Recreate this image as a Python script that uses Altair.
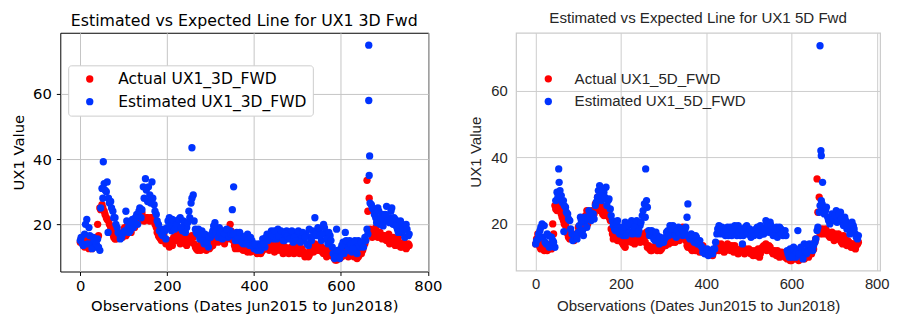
import altair as alt
import pandas as pd

obs_a = list(range(0, 760, 5))
obs_b = list(range(2, 760, 5))

# ---- UX1 3D forward (left panel) ----
est_3d_a = [
    15, 14, 17, 21.5, 19, 14, 16, 13, 15.5, 12,
    31, 32.5, 30, 28, 27, 24, 22, 19, 17, 16,
    17.5, 24, 19, 18, 21.5, 20, 23, 24, 22, 31.5,
    34, 27, 29, 33, 26, 23, 20, 18.5, 16.5, 18,
    19, 22, 18, 20, 21, 19, 22, 18, 20.5, 19,
    24, 26.5, 29, 18.5, 17, 15.5, 18, 14, 16, 13,
    16, 18, 20.5, 17, 19, 16.5, 18, 17, 16, 18,
    24.5, 16, 17.5, 15, 16.5, 14, 15.5, 17, 13.5, 15,
    12.5, 13.5, 14, 12, 15.5, 13, 17, 16, 18, 15.5,
    17, 18.5, 16, 17.5, 15, 18, 16.5, 17, 14.5, 17.5,
    15.5, 17, 16, 15, 17, 13.5, 16, 18, 22, 16.5,
    18, 15, 20, 17, 14, 16.5, 13, 9.5, 18.5, 10.5,
    12.5, 14.5, 17.5, 13, 15, 11.5, 14, 12.5, 15, 13,
    14.5, 16, 18.5, 35, 26, 24.5, 22, 25, 20, 23,
    21.5, 25.5, 22, 24, 20, 21.5, 18.5, 20, 17.5, 19,
    20, 16.5,
]
est_3d_b = [
    16, 13.5, 20, 14, 16.5, 12.5, 15, 14, 13, 25,
    28, 30.5, 33, 26.5, 25, 22, 20, 17.5, 15.5, 17,
    18, 21, 17.5, 20.5, 19, 22, 20, 25, 24.5, 28,
    30.5, 31.5, 26.5, 28, 24, 21, 18, 17, 18.5, 15.5,
    21, 19.5, 21.5, 18.5, 20, 21.5, 19, 21, 17.5, 20.5,
    22, 28, 21, 17.5, 18.5, 16.5, 15, 17, 14.5, 16,
    17, 19.5, 18, 16, 17.5, 15.5, 17, 18.5, 16.5, 17,
    17, 15, 16, 17.5, 14.5, 16, 14, 15.5, 16, 13.5,
    14, 12, 13, 13.5, 14, 16, 15, 17, 16.5, 18,
    15.5, 16.5, 18, 15, 17, 16.5, 15.5, 18, 16, 15,
    18, 14.5, 17.5, 16, 14, 18.5, 15, 16.5, 17, 19,
    16.5, 17, 19, 15.5, 17.5, 15, 11, 10, 12, 9.5,
    13.5, 11, 15, 12, 14, 12.5, 15, 11, 13.5, 14.5,
    13, 15, 17, 26.5, 25, 23, 20.5, 24, 22, 19.5,
    23, 21, 20.5, 25, 22, 19.5, 17.5, 21, 18, 16,
    18.5, 17,
]
act_3d_a = [
    14.5, 16, 13, 15, 12.5, 14, 13, 15.5, 20, 25,
    26, 24, 22, 21, 19, 17, 15.5, 16.5, 16, 17,
    18, 16.5, 20, 18, 21, 19, 22, 21, 24, 22,
    21.5, 22, 21, 22, 21, 19, 16.5, 15.5, 16, 15,
    14.5, 13, 14, 16, 15, 17, 14, 16, 15, 13.5,
    16, 14.5, 16, 13, 12, 13.5, 12.5, 13, 12, 14,
    13, 13.5, 15, 16, 15, 16.5, 15, 16, 17, 20,
    17, 13.5, 14, 12.5, 13.5, 12, 13, 11.5, 12.5, 13,
    12, 11.5, 12.5, 11, 12, 12.5, 13.5, 12, 14, 12.5,
    13, 14, 12, 13.5, 11.5, 12.5, 11, 13, 12, 11.5,
    13, 11, 12.5, 11.5, 10.5, 10, 12, 13, 14, 13.5,
    12, 13, 11, 12.5, 10.5, 11, 12, 9.5, 9, 10,
    11.5, 10.5, 12, 11, 12.5, 10.5, 10, 11, 10, 11.5,
    12, 14, 33.5, 28, 18, 17, 19, 16, 17.5, 15.5,
    16.5, 15, 17, 14.5, 16, 13.5, 15, 14, 13, 14.5,
    12.5, 14,
]
act_3d_b = [
    15.5, 13.5, 14.5, 13, 15, 12.5, 14.5, 13.5, 16.5, 24.5,
    25, 23, 21.5, 20, 18, 16, 15.5, 17, 16.5, 16,
    19, 17, 20.5, 17.5, 19.5, 20.5, 21.5, 23, 23.5, 21,
    22, 21.5, 22, 21.5, 20, 17.5, 16, 15, 16.5, 14,
    14, 15, 13.5, 15.5, 16.5, 15, 14.5, 17, 14, 15,
    15, 16.5, 14, 12.5, 13, 12, 14, 12.5, 13.5, 12.5,
    14, 14.5, 16.5, 14.5, 16, 15.5, 14, 16.5, 15.5, 18,
    15, 12.5, 13, 14.5, 12.5, 13.5, 12, 13, 11.5, 12,
    12.5, 11, 12, 11.5, 13, 13.5, 13, 12.5, 13, 11.5,
    12, 13, 12.5, 11, 13, 12, 11.5, 12.5, 11, 12.5,
    12, 12, 11, 10, 11, 10.5, 12.5, 11.5, 13, 12,
    13.5, 11.5, 12, 10, 12, 10.5, 10, 9, 9.5, 9.5,
    10, 11, 11.5, 10, 11, 11.5, 10.5, 9.5, 10.5, 11,
    13, 15, 24, 18.5, 16, 17.5, 18, 17, 16, 16.5,
    15.5, 16, 14, 15.5, 15, 14, 16, 13, 14, 13.5,
    13, 13.5,
]
est_3d_out_obs = [53, 64, 257, 353, 664, 664, 666]
est_3d_out_val = [39.2, 17.5, 43.5, 31.5, 75.0, 58.0, 41.0]

# ---- UX1 5D forward (right panel) ----
est_5d_a = [
    14, 15.5, 18, 20, 19.5, 14, 16.5, 13.5, 15, 13,
    29.5, 32.5, 28.5, 27, 25, 23, 21, 17, 15.5, 16,
    17.5, 22, 18, 20.5, 19, 24, 21, 23, 25.5, 28,
    31.5, 27, 29.5, 31, 27, 24.5, 21, 18.5, 20, 17.5,
    19, 16.5, 20.5, 18, 17.5, 21, 18.5, 20, 17, 19.5,
    22.5, 26, 27, 18, 16.5, 17.5, 15, 16.5, 14, 15.5,
    14.5, 16, 18, 19.5, 17, 18.5, 16, 19, 17.5, 16.5,
    18, 22, 16, 17, 15, 16.5, 14, 15, 13, 12,
    11.5, 10.5, 12, 11, 12.5, 17, 19.5, 17, 18.5, 16.5,
    19, 17.5, 16.5, 18.5, 17, 19.5, 16.5, 14, 18, 19.5,
    17, 16, 18, 17.5, 19, 16.5, 18.5, 17, 21, 19,
    20.5, 18, 17, 19, 17.5, 18.5, 16.5, 18, 12, 10,
    11.5, 13, 10, 18, 12.5, 10.5, 14, 11, 12.5, 13.5,
    12, 14.5, 18, 23.5, 27, 25, 24, 22, 20, 23,
    21, 24, 22.5, 23.5, 20.5, 22, 18.5, 20, 18, 19.5,
    17, 15.5,
]
est_5d_b = [
    15, 17, 19, 16, 14.5, 17, 13, 16, 14.5, 27,
    28, 30, 26.5, 25.5, 23.5, 21.5, 18.5, 15, 16.5, 15.5,
    19.5, 21, 16.5, 22, 21.5, 22.5, 23, 21.5, 26.5, 30,
    29, 30.5, 28, 25.5, 27.5, 22.5, 19.5, 18, 21, 17,
    18, 19, 16.5, 19.5, 20, 17, 19, 21, 18, 20.5,
    24, 22, 25, 16.5, 18, 15.5, 17.5, 15, 16, 14.5,
    15.5, 17.5, 16.5, 18.5, 19.5, 16.5, 18, 17, 18.5, 17,
    19, 16.5, 15.5, 16.5, 14.5, 16, 15, 13.5, 11.5, 11,
    12.5, 11, 11.5, 12.5, 14.5, 18.5, 17.5, 19, 17.5, 18,
    16.5, 19, 17.5, 19.5, 16.5, 17.5, 18.5, 16.5, 19, 17,
    18.5, 17.5, 16.5, 18.5, 17.5, 19.5, 17, 18.5, 20, 17.5,
    19.5, 16.5, 18.5, 16, 19, 17, 17.5, 16.5, 11, 12.5,
    10, 12, 11.5, 11, 13, 9.5, 12, 11.5, 14, 12.5,
    13.5, 15.5, 19, 25.5, 26, 23, 25, 21, 22, 21.5,
    22.5, 20.5, 23, 21.5, 19.5, 21, 19.5, 17, 20.5, 18.5,
    16, 16.5,
]
act_5d_a = [
    14, 17, 13, 14.5, 12, 13.5, 12.5, 14, 20, 25.5,
    24, 26, 23, 21, 19.5, 17, 15.5, 16, 15, 17,
    19, 17.5, 21, 19, 24, 21.5, 23, 22, 26, 28,
    24, 25, 22.5, 24, 23, 21, 17, 16, 15.5, 16.5,
    15, 14, 13, 15.5, 16.5, 14.5, 17, 15, 16, 14.5,
    17, 16, 17.5, 13.5, 12, 13, 12.5, 12, 13.5, 12.5,
    14, 13.5, 15, 16, 14.5, 16, 15, 15.5, 17, 19,
    16, 13.5, 14, 12.5, 13, 12, 13.5, 11.5, 12.5, 11.5,
    12, 11, 11.5, 10.5, 12, 13.5, 12, 14, 13, 12,
    14, 12.5, 13.5, 11.5, 12.5, 11, 12, 13, 11, 11.5,
    12.5, 11, 10.5, 12, 11.5, 10, 12, 13.5, 14, 12.5,
    13, 11.5, 12, 10.5, 11.5, 10.5, 11, 10, 9.5, 10.5,
    9, 10, 11, 9.5, 10.5, 10, 9.5, 11, 10, 11.5,
    12, 14.5, 33.5, 28, 18, 17, 18.5, 17, 16, 17.5,
    15, 16.5, 17, 15, 14, 15.5, 13.5, 14.5, 13, 14,
    12.5, 14,
]
act_5d_b = [
    15.5, 14, 12.5, 13, 14, 12, 13.5, 12.5, 17, 24.5,
    25, 24.5, 22, 20, 18, 16, 16.5, 15.5, 16, 16.5,
    18, 20, 19.5, 22.5, 20, 22, 24, 23, 25, 26.5,
    26, 23, 24, 22.5, 22, 18.5, 15.5, 17, 15, 16,
    14.5, 13.5, 14.5, 16, 15, 16, 14, 15.5, 17, 15,
    16.5, 14.5, 13, 12.5, 12, 13, 12.5, 13, 12, 13,
    14.5, 15, 14, 15.5, 16, 14.5, 16, 15, 16.5, 18,
    15, 13, 13.5, 12, 14, 12.5, 13, 12, 13.5, 12,
    11, 12, 11, 11.5, 12.5, 14, 13, 12.5, 11.5, 13,
    13, 12, 12.5, 13.5, 12, 11.5, 12.5, 12, 12.5, 12,
    11.5, 12, 11, 10.5, 12.5, 11, 13, 12.5, 12, 13.5,
    12, 11, 11, 12, 10, 11.5, 10.5, 11.5, 10, 9,
    10, 9.5, 10.5, 9, 10.5, 11, 10, 10.5, 11, 11,
    12.5, 15.5, 23.5, 17, 18.5, 17.5, 18, 16.5, 17, 16,
    17, 15.5, 16, 14.5, 16.5, 14, 15, 13.5, 14, 13,
    13.5, 14.5,
]
est_5d_out_obs = [54, 66, 258, 357, 667, 669, 670, 673]
est_5d_out_val = [36.5, 17.7, 36.5, 26.0, 73.5, 42.0, 40.5, 32.5]

RED = "#ff0000"
BLUE = "#0033ff"


def frame(act_a, act_b, est_a, est_b, out_x, out_v, act_name, est_name):
    a = pd.DataFrame({"obs": obs_a + obs_b, "value": act_a + act_b, "series": act_name})
    e = pd.DataFrame({"obs": obs_a + obs_b + out_x, "value": est_a + est_b + out_v,
                      "series": est_name})
    return pd.concat([a, e], ignore_index=True)


df3 = frame(act_3d_a, act_3d_b, est_3d_a, est_3d_b, est_3d_out_obs, est_3d_out_val,
            "Actual UX1_3D_FWD", "Estimated UX1_3D_FWD")
df5 = frame(act_5d_a, act_5d_b, est_5d_a, est_5d_b, est_5d_out_obs, est_5d_out_val,
            "Actual UX1_5D_FWD", "Estimated UX1_5D_FWD")

XT = "Observations (Dates Jun2015 to Jun2018)"
DOT = 55

# ---------- left panel (classic matplotlib look) ----------
LF = "DejaVu Sans"
left = alt.Chart(df3).mark_circle(size=DOT, opacity=1).encode(
    x=alt.X("obs:Q",
            scale=alt.Scale(domain=[-46, 801], nice=False, zero=False),
            axis=alt.Axis(values=[0, 200, 400, 600, 800], title=XT, domain=False,
                          grid=True, gridColor="#c4c4c4", gridWidth=1,
                          ticks=True, tickSize=4, tickColor="#000000",
                          labelFont=LF, labelFontSize=15, labelColor="#000000",
                          labelFlush=False, labelPadding=3, titleFont=LF,
                          titleFontSize=15, titleFontWeight="normal",
                          titleColor="#000000", titlePadding=6)),
    y=alt.Y("value:Q",
            scale=alt.Scale(domain=[5.5, 78.8], nice=False, zero=False),
            axis=alt.Axis(values=[20, 40, 60], title="UX1 Value", domain=False,
                          grid=True, gridColor="#c4c4c4", gridWidth=1,
                          ticks=True, tickSize=4, tickColor="#000000",
                          labelFont=LF, labelFontSize=15, labelColor="#000000",
                          labelFlush=False, labelPadding=5, titleFont=LF,
                          titleFontSize=15, titleFontWeight="normal",
                          titleColor="#000000", titlePadding=6)),
    color=alt.Color("series:N",
                    scale=alt.Scale(domain=["Actual UX1_3D_FWD", "Estimated UX1_3D_FWD"],
                                    range=[RED, BLUE]),
                    legend=alt.Legend(title=None, orient="none", legendX=8, legendY=33,
                                      symbolType="circle", symbolSize=DOT,
                                      symbolStrokeWidth=0, symbolOpacity=1,
                                      labelFont=LF, labelFontSize=15.7, labelLimit=0,
                                      labelColor="#000000", labelOffset=21,
                                      symbolOffset=8, padding=6, rowPadding=6,
                                      strokeColor="#cccccc", fillColor="#ffffff",
                                      cornerRadius=3)),
).properties(
    width=373, height=242,
    title=alt.TitleParams("Estimated vs Expected Line for UX1 3D Fwd", font=LF,
                          fontSize=16, fontWeight="normal", color="#000000",
                          anchor="middle", offset=4),
    view=alt.ViewBackground(stroke="#000000", strokeWidth=1, fill="#ffffff"),
)

# ---------- right panel (seaborn whitegrid look) ----------
RF = "Liberation Sans"
TC = "#262626"
right = alt.Chart(df5).mark_circle(size=DOT, opacity=1).encode(
    x=alt.X("obs:Q",
            scale=alt.Scale(domain=[-46, 808], nice=False, zero=False),
            axis=alt.Axis(values=[0, 200, 400, 600, 800], title=XT, domain=False,
                          grid=True, gridColor="#cccccc", gridWidth=1, ticks=False,
                          labelFont=RF, labelFontSize=15, labelColor=TC,
                          labelFlush=False, labelPadding=6, titleFont=RF,
                          titleFontSize=15.3, titleFontWeight="normal",
                          titleColor=TC, titlePadding=8)),
    y=alt.Y("value:Q",
            scale=alt.Scale(domain=[6.0, 77.4], nice=False, zero=False),
            axis=alt.Axis(values=[20, 40, 60], title="UX1 Value", domain=False,
                          grid=True, gridColor="#cccccc", gridWidth=1, ticks=False,
                          labelFont=RF, labelFontSize=15, labelColor=TC,
                          labelFlush=False, labelPadding=9, titleFont=RF,
                          titleFontSize=15.3, titleFontWeight="normal",
                          titleColor=TC, titlePadding=7)),
    color=alt.Color("series:N",
                    scale=alt.Scale(domain=["Actual UX1_5D_FWD", "Estimated UX1_5D_FWD"],
                                    range=[RED, BLUE]),
                    legend=alt.Legend(title=None, orient="none", legendX=25, legendY=39,
                                      symbolType="circle", symbolSize=DOT,
                                      symbolStrokeWidth=0, symbolOpacity=1,
                                      labelFont=RF, labelFontSize=15.3, labelLimit=0,
                                      labelColor=TC, labelOffset=19,
                                      padding=0, rowPadding=7)),
).properties(
    width=369, height=241,
    title=alt.TitleParams("Estimated vs Expected Line for UX1 5D Fwd", font=RF,
                          fontSize=15.3, fontWeight="normal", color=TC,
                          anchor="middle", offset=7),
    view=alt.ViewBackground(stroke="#cccccc", strokeWidth=1.25, fill="#ffffff"),
)

chart = alt.hconcat(left, right, spacing=25).resolve_scale(
    color="independent", x="independent", y="independent"
).resolve_legend(color="independent").properties(
    padding={"left": 3, "top": 0, "right": 0, "bottom": 0}
).configure(background="#ffffff")

chart.save("out.html", embed_options={"renderer": "svg", "actions": False})
